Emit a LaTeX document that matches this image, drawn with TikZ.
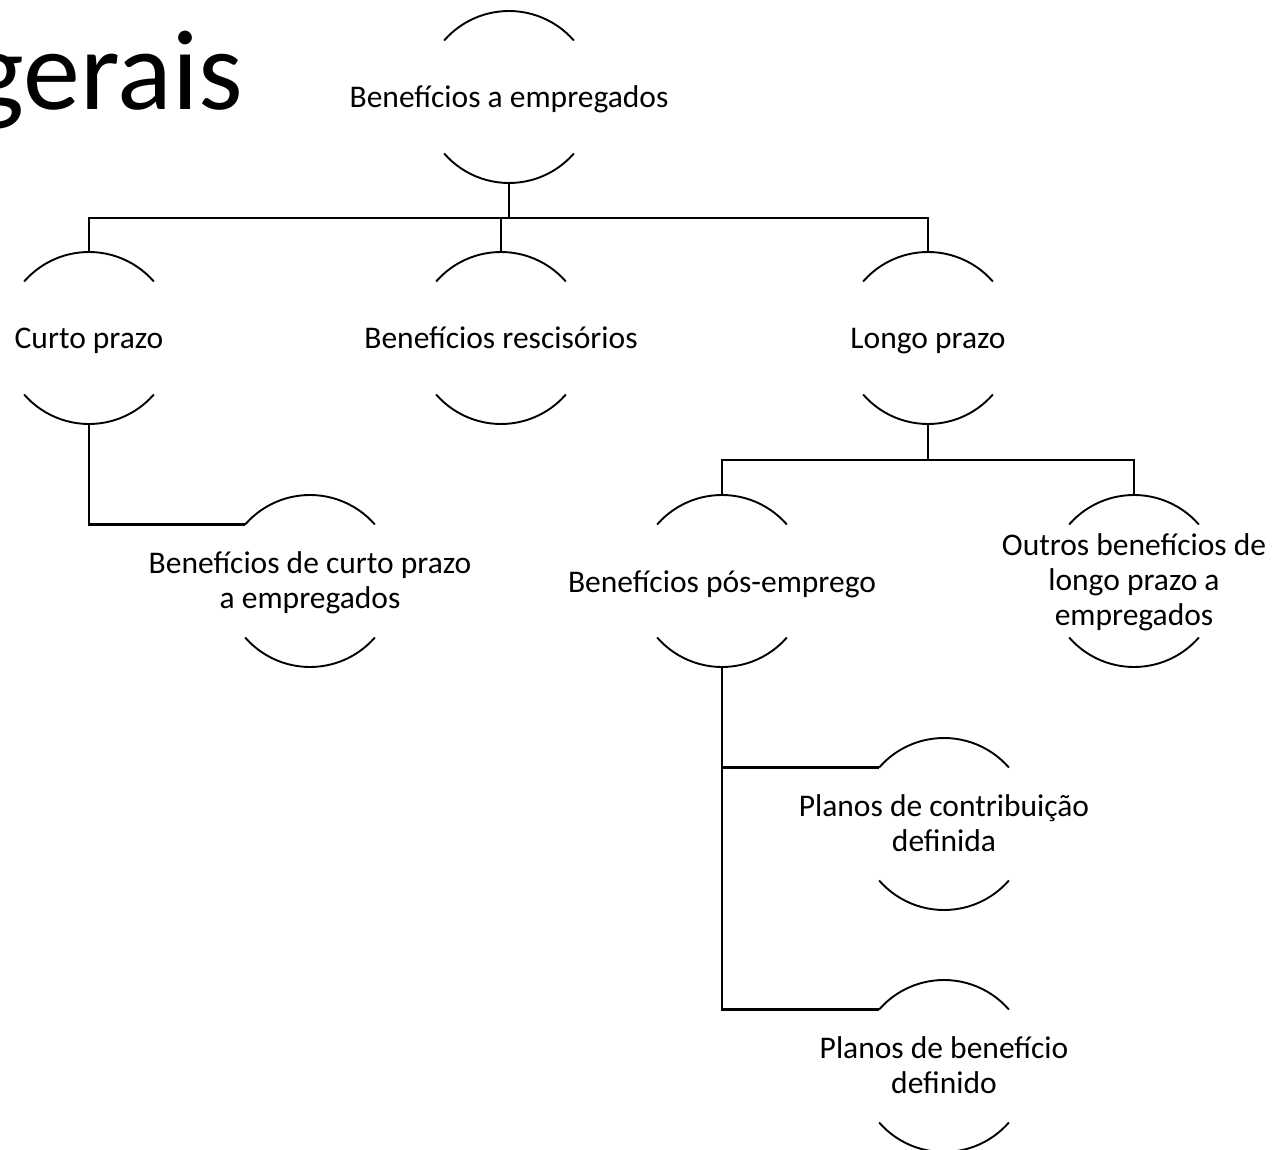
\documentclass[tikz,border=0pt]{standalone}
\usepackage{fontspec}
\setmainfont{Carlito}
\begin{document}
\begin{tikzpicture}[x=1pt,y=1pt,
  cnode/.style={rectangle, inner sep=0pt, draw=none, align=center, yshift=-4pt,
    font=\fontsize{31.5}{35}\selectfont,
    execute at begin node={\strut}, execute at end node={\strut}},
  link/.style={line width=2.2pt},
  arcline/.style={line width=1.9pt}]
\useasboundingbox (0,0) rectangle (1275,-1150);
\fill[white] (0,0) rectangle (1275,-1150);

\node[anchor=base east, font=\fontsize{114}{114}\selectfont, inner sep=0pt] (title) at (243,-110) {gerais};

\node[cnode] (root) at (509,-97) {Benefícios a empregados};
\node[cnode] (cp) at (89,-338) {Curto prazo};
\node[cnode] (br) at (501,-338) {Benefícios rescisórios};
\node[cnode] (lp) at (928,-338) {Longo prazo};
\node[cnode] (bcp) at (310,-581) {Benefícios de curto prazo\\a empregados};
\node[cnode] (bpe) at (722,-581) {Benefícios pós-emprego};
\node[cnode] (olp) at (1134,-581) {Outros benefícios de\\longo prazo a\\empregados};
\node[cnode] (pcd) at (944,-824) {Planos de contribuição\\definida};
\node[cnode] (pbd) at (944,-1066) {Planos de benefício\\definido};

\foreach \n in {root,cp,br,lp,bcp,bpe,olp,pcd,pbd}{
  \coordinate (\n-c) at ([yshift=4]\n.center);
  \draw[arcline] ([shift={(41:86)}]\n-c) arc[start angle=41, end angle=139, radius=86];
  \draw[arcline] ([shift={(-139:86)}]\n-c) arc[start angle=-139, end angle=-41, radius=86];
  \coordinate (\n-top) at ([yshift=86]\n-c);
  \coordinate (\n-bot) at ([yshift=-86]\n-c);
  \coordinate (\n-tl) at ([shift={(139:86)}]\n-c);
}

% root to level 1
\draw[link] (root-bot) -- ++(0,-35) coordinate (j1);
\draw[link] (cp-top) |- (j1) -| (lp-top);
\draw[link] (br-top) -- (br-top |- j1);

% curto prazo child
\draw[link] (cp-bot) |- (bcp-tl);

% longo prazo children
\draw[link] (lp-bot) -- ++(0,-36) coordinate (j2);
\draw[link] (bpe-top) |- (j2) -| (olp-top);

% pos-emprego children
\draw[link] (bpe-bot) |- (pcd-tl);
\draw[link] (bpe-bot) |- (pbd-tl);
\end{tikzpicture}
\end{document}
